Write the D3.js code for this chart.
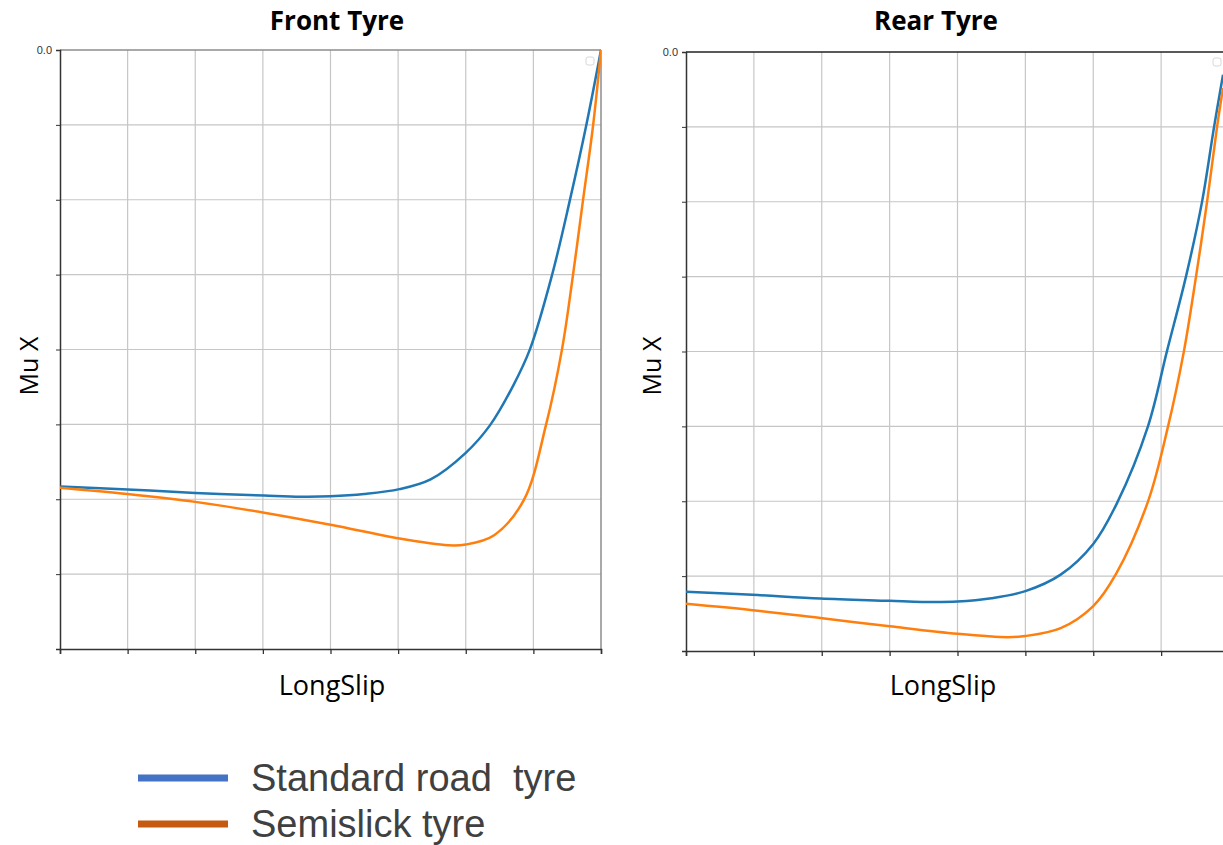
<!DOCTYPE html>
<html>
<head>
<meta charset="utf-8">
<script src="https://cdn.jsdelivr.net/npm/d3@7"></script>
<style>
  html, body { margin: 0; padding: 0; background: #fff; }
  svg { display: block; }
</style>
</head>
<body>
<svg id="chart" width="1223" height="845"></svg>
<script>
// Longitudinal friction coefficient vs longitudinal slip (braking side)
const yTickValues = [-1.6, -1.4, -1.2, -1.0, -0.8, -0.6, -0.4, -0.2, 0.0];
const yTickLabels = ["", "", "", "", "", "", "", "", "0.0"];
const xTickValues = [-0.40, -0.35, -0.30, -0.25, -0.20, -0.15, -0.10, -0.05, 0.00];

const seriesNames = ["Standard road  tyre", "Semislick tyre"];

// Front tyre
const frontStandardSlip = [-0.400, -0.350, -0.300, -0.249, -0.222, -0.200, -0.175, -0.149, -0.126, -0.100, -0.082, -0.065, -0.0525, -0.0362, -0.023, -0.011, 0.000];
const frontStandardMu   = [-1.166, -1.174, -1.183, -1.190, -1.193, -1.192, -1.186, -1.173, -1.147, -1.076, -1.002, -0.897, -0.799, -0.601, -0.401, -0.203, 0.000];
const frontSemislickSlip = [-0.400, -0.350, -0.300, -0.249, -0.199, -0.149, -0.113, -0.100, -0.079, -0.0569, -0.0407, -0.0288, -0.0207, -0.0133, -0.0059, 0.000];
const frontSemislickMu   = [-1.169, -1.186, -1.207, -1.236, -1.269, -1.305, -1.323, -1.321, -1.296, -1.201, -1.002, -0.799, -0.601, -0.401, -0.203, 0.000];

// Rear tyre
const rearStandardSlip = [-0.400, -0.351, -0.301, -0.250, -0.226, -0.200, -0.175, -0.150, -0.124, -0.100, -0.0825, -0.0597, -0.0457, -0.0317, -0.0199, -0.0110, -0.0044];
const rearStandardMu   = [-1.442, -1.450, -1.460, -1.466, -1.469, -1.468, -1.459, -1.440, -1.396, -1.314, -1.205, -1.000, -0.799, -0.600, -0.401, -0.200, -0.061];
const rearSemislickSlip = [-0.400, -0.351, -0.301, -0.250, -0.200, -0.163, -0.150, -0.124, -0.100, -0.0832, -0.0597, -0.0449, -0.0332, -0.0243, -0.0162, -0.0088, -0.0044];
const rearSemislickMu   = [-1.474, -1.491, -1.512, -1.534, -1.554, -1.563, -1.560, -1.539, -1.480, -1.394, -1.201, -1.000, -0.799, -0.600, -0.401, -0.200, -0.096];

const colors = ["#1f77b4", "#ff7f0e"];
const legendColors = ["#4472c4", "#c55a11"];

const panels = [
  { title: "Front Tyre", left: 60, right: 601, top: 50, bottom: 649, topStroke: "#8c8c8c", rightStroke: "#8c8c8c",
    titleX: 337, yLabelX: 38, xLabelX: 332,
    series: [[frontStandardSlip, frontStandardMu], [frontSemislickSlip, frontSemislickMu]], box: [586, 57] },
  { title: "Rear Tyre", left: 686, right: 1229, top: 52, bottom: 651, topStroke: "#222", rightStroke: null,
    titleX: 936, yLabelX: 661, xLabelX: 943,
    series: [[rearStandardSlip, rearStandardMu], [rearSemislickSlip, rearSemislickMu]], box: [1213, 58] }
];

const svg = d3.select("#chart");
const labelFont = "'Open Sans', 'Noto Sans', sans-serif";

panels.forEach((p, pi) => {
  const x = d3.scaleLinear().domain([-0.4, 0]).range([p.left, p.right]);
  const y = d3.scaleLinear().domain([-1.6, 0]).range([p.bottom, p.top]);
  const g = svg.append("g");

  const clipId = "clip" + pi;
  g.append("clipPath").attr("id", clipId)
    .append("rect").attr("x", p.left).attr("y", p.top - 2)
    .attr("width", p.right - p.left).attr("height", p.bottom - p.top + 4);

  // grid
  g.append("g").selectAll("line").data(xTickValues.slice(1, -1)).join("line")
    .attr("x1", d => x(d)).attr("x2", d => x(d))
    .attr("y1", p.top).attr("y2", p.bottom)
    .attr("stroke", "#c6c6c6").attr("stroke-width", 1.2);
  g.append("g").selectAll("line").data(yTickValues.slice(1, -1)).join("line")
    .attr("x1", p.left).attr("x2", p.right)
    .attr("y1", d => y(d)).attr("y2", d => y(d))
    .attr("stroke", "#c6c6c6").attr("stroke-width", 1.2);

  // frame edges
  g.append("line").attr("x1", p.left).attr("x2", p.right).attr("y1", p.top).attr("y2", p.top)
    .attr("stroke", p.topStroke).attr("stroke-width", 1.5);
  if (p.rightStroke) {
    g.append("line").attr("x1", p.right).attr("x2", p.right).attr("y1", p.top).attr("y2", p.bottom)
      .attr("stroke", p.rightStroke).attr("stroke-width", 1.5);
  }

  // axes
  const yAxis = d3.axisLeft(y).tickValues(yTickValues)
    .tickFormat((d, i) => yTickLabels[i]).tickSize(4).tickPadding(4);
  const ya = g.append("g").attr("transform", `translate(${p.left},0)`).call(yAxis);
  ya.select(".domain").attr("stroke", "#333").attr("stroke-width", 1.5);
  ya.selectAll(".tick line").attr("stroke", "#333");
  ya.selectAll(".tick text").attr("font-family", "'Liberation Sans', Arial, sans-serif")
    .attr("font-size", 11).attr("fill", "#333");

  const xAxis = d3.axisBottom(x).tickValues(xTickValues).tickFormat(() => "").tickSize(5);
  const xa = g.append("g").attr("transform", `translate(0,${p.bottom})`).call(xAxis);
  xa.select(".domain").attr("stroke", "#333").attr("stroke-width", 1.5);
  xa.selectAll(".tick line").attr("stroke", "#333").attr("stroke-width", 1.3);

  // curves
  const line = d3.line().x(d => x(d[0])).y(d => y(d[1])).curve(d3.curveCatmullRom.alpha(0.5));
  p.series.forEach((s, si) => {
    const pts = s[0].map((v, i) => [v, s[1][i]]);
    g.append("path").datum(pts).attr("d", line)
      .attr("clip-path", `url(#${clipId})`)
      .attr("fill", "none").attr("stroke", colors[si]).attr("stroke-width", 2.5);
  });

  // small toggle box in the corner
  g.append("rect").attr("x", p.box[0]).attr("y", p.box[1]).attr("width", 8).attr("height", 8)
    .attr("rx", 2).attr("fill", "#fff").attr("stroke", "#d8d8d8").attr("stroke-width", 1);

  // titles and axis labels
  g.append("text").attr("x", p.titleX).attr("y", 30)
    .attr("text-anchor", "middle").attr("font-family", labelFont)
    .attr("font-weight", "bold").attr("font-size", 26).attr("fill", "#000").text(p.title);

  g.append("text").attr("transform", `translate(${p.yLabelX},366) rotate(-90)`)
    .attr("text-anchor", "middle").attr("font-family", labelFont)
    .attr("font-size", 25).attr("fill", "#000").text("Mu X");

  g.append("text").attr("x", p.xLabelX).attr("y", 695)
    .attr("text-anchor", "middle").attr("font-family", labelFont)
    .attr("font-size", 27).attr("fill", "#000").text("LongSlip");
});

// legend
const legend = svg.append("g");
seriesNames.forEach((name, i) => {
  const yy = 778 + i * 46;
  legend.append("line").attr("x1", 138).attr("x2", 228).attr("y1", yy).attr("y2", yy)
    .attr("stroke", legendColors[i]).attr("stroke-width", 7);
  legend.append("text").attr("x", 251).attr("y", yy + 13)
    .attr("font-family", "'Liberation Sans', Arial, sans-serif").attr("font-size", 38)
    .attr("fill", "#404040").style("white-space", "pre").text(name);
});
</script>
</body>
</html>
